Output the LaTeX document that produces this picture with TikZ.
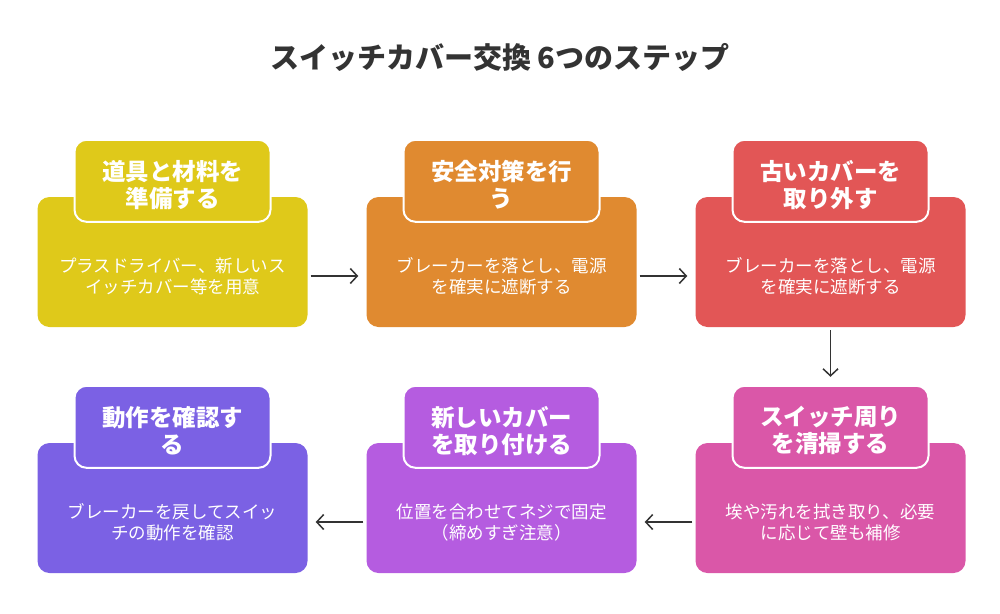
\documentclass[tikz,border=0pt]{standalone}
\usepackage{fontspec}
\setmainfont{Noto Sans CJK JP}
\usepackage{tikz}
\usetikzlibrary{arrows.meta,positioning}
\definecolor{c_yel}{RGB}{223,201,26}
\definecolor{c_org}{RGB}{224,138,48}
\definecolor{c_red}{RGB}{226,86,86}
\definecolor{c_pnk}{RGB}{218,87,168}
\definecolor{c_pur}{RGB}{181,92,224}
\definecolor{c_ind}{RGB}{123,97,228}
\definecolor{c_txt}{RGB}{51,51,51}
\tikzset{
	card_b/.style = {rectangle, rounded corners=12pt, minimum width=270pt,
		minimum height=130pt, inner sep=0pt},
	card_t/.style = {rectangle, rounded corners=12pt, draw=white, line width=2pt,
		minimum width=196pt, minimum height=82pt, inner sep=0pt},
	card_h/.style = {align=center, inner sep=0pt, text=white,
		font=\fontsize{23.5}{27}\selectfont\bfseries},
	card_d/.style = {align=center, inner sep=0pt, text=white,
		font=\fontsize{17.5}{21}\selectfont},
	flow/.style = {-{Straight Barb[length=7pt,width=15pt]}, c_txt, line width=1.5pt,
		shorten <=3pt, shorten >=8pt}
}
\begin{document}
\begin{tikzpicture}[x=1pt,y=-1pt]
\useasboundingbox (0,0) rectangle (1000,613);
\node [text=c_txt, font=\fontsize{29}{32}\selectfont\bfseries] (ttl) at (500,57)
	{スイッチカバー交換 6つのステップ};

\node [card_b, fill=c_yel] (b1) at (172.5,262) {};
\node [card_b, fill=c_org] (b2) at (501.5,262) {};
\node [card_b, fill=c_red] (b3) at (830.5,262) {};
\node [card_b, fill=c_pnk] (b4) at (830.5,508) {};
\node [card_b, fill=c_pur] (b5) at (501.5,508) {};
\node [card_b, fill=c_ind] (b6) at (172.5,508) {};

\node [card_t, fill=c_yel, above=-26pt of b1.north] (t1) {};
\node [card_t, fill=c_org, above=-26pt of b2.north] (t2) {};
\node [card_t, fill=c_red, above=-26pt of b3.north] (t3) {};
\node [card_t, fill=c_pnk, above=-26pt of b4.north] (t4) {};
\node [card_t, fill=c_pur, above=-26pt of b5.north] (t5) {};
\node [card_t, fill=c_ind, above=-26pt of b6.north] (t6) {};

\node [card_h] (h1) at ([yshift=-4pt]t1.center) {道具と材料を\\準備する};
\node [card_h] (h2) at ([yshift=-4pt]t2.center) {安全対策を行\\う};
\node [card_h] (h3) at ([yshift=-4pt]t3.center) {古いカバーを\\取り外す};
\node [card_h] (h4) at ([yshift=-4pt]t4.center) {スイッチ周り\\を清掃する};
\node [card_h] (h5) at ([yshift=-4pt]t5.center) {新しいカバー\\を取り付ける};
\node [card_h] (h6) at ([yshift=-4pt]t6.center) {動作を確認す\\る};

\node [card_d] (d1) at ([yshift=-14pt]b1.center) {プラスドライバー、新しいス\\イッチカバー等を用意};
\node [card_d] (d2) at ([yshift=-14pt]b2.center) {ブレーカーを落とし、電源\\を確実に遮断する};
\node [card_d] (d3) at ([yshift=-14pt]b3.center) {ブレーカーを落とし、電源\\を確実に遮断する};
\node [card_d] (d4) at ([yshift=-14pt]b4.center) {埃や汚れを拭き取り、必要\\に応じて壁も補修};
\node [card_d] (d5) at ([yshift=-14pt]b5.center) {位置を合わせてネジで固定\\（締めすぎ注意）};
\node [card_d] (d6) at ([yshift=-14pt]b6.center) {ブレーカーを戻してスイッ\\チの動作を確認};

\draw [flow] (b1.east |- d1) -- (b2.west |- d1);
\draw [flow] (b2.east |- d2) -- (b3.west |- d2);
\draw [flow] (b3.south) -- (t4.north);
\draw [flow] (b4.west |- d4) -- (b5.east |- d4);
\draw [flow] (b5.west |- d5) -- (b6.east |- d5);
\end{tikzpicture}
\end{document}
